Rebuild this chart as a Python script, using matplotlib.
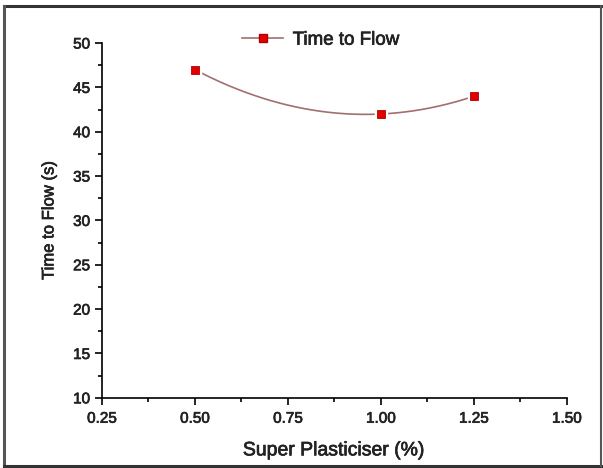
import numpy as np
import matplotlib
matplotlib.use('Agg')
import matplotlib.pyplot as plt
import matplotlib.patheffects as pe
from matplotlib.lines import Line2D

plasticiser = [0.50, 1.00, 1.25]
time_to_flow = [47, 42, 44]

plt.rcParams['font.family'] = ['Liberation Sans', 'DejaVu Sans']
heavy = [pe.withStroke(linewidth=0.5, foreground='#222222')]

fig = plt.figure(figsize=(6.03, 4.68), dpi=100)
ax = fig.add_axes([0.169, 0.150, 0.771, 0.758])

# smooth curve through the points (Origin style spline)
coef = np.polyfit(plasticiser, time_to_flow, 2)
xs = np.linspace(min(plasticiser), max(plasticiser), 200)
ax.plot(xs, np.polyval(coef, xs), color='#a07070', lw=1.2, zorder=2)
ax.plot(plasticiser, time_to_flow, 's', ms=9, color='white', zorder=3)
ax.plot(plasticiser, time_to_flow, 's', ms=6, color='#e00000', mec='#b00000', mew=0.6, zorder=4)

ax.set_xlim(0.25, 1.50)
ax.set_ylim(10, 50)
ax.set_xticks([0.25, 0.50, 0.75, 1.00, 1.25, 1.50])
ax.set_xticks(np.arange(0.375, 1.5, 0.25), minor=True)
ax.set_yticks(range(10, 51, 5))
ax.set_yticks(np.arange(12.5, 50, 5), minor=True)
ax.xaxis.set_major_formatter(plt.FormatStrFormatter('%.2f'))
ax.tick_params(which='major', direction='out', length=5, width=1.2, labelsize=11, labelcolor='#222222')
ax.tick_params(axis='x', which='major', pad=5)
ax.tick_params(which='minor', direction='out', length=3, width=1.2)
for s in ['top', 'right']:
    ax.spines[s].set_visible(False)
for s in ['left', 'bottom']:
    ax.spines[s].set_linewidth(1.2)
for lab in ax.get_xticklabels() + ax.get_yticklabels():
    lab.set_path_effects(heavy)

ax.set_xlabel('Super Plasticiser (%)', fontsize=14, labelpad=12, color='#222222', path_effects=heavy)
ax.set_ylabel('Time to Flow (s)', fontsize=12, labelpad=12, color='#222222', path_effects=heavy)

handle = Line2D([], [], color='#a07070', lw=1.2, marker='s', ms=6,
                mfc='#e00000', mec='#b00000')
leg = ax.legend([handle], ['Time to Flow'], loc='upper center', bbox_to_anchor=(0.47, 1.08),
                frameon=False, fontsize=13.5, handlelength=2.2, handletextpad=0.5)
for t in leg.get_texts():
    t.set_color('#222222')
    t.set_path_effects(heavy)

# outer picture frame
fig.add_artist(Line2D([0.006, 0.997], [0.988, 0.988], color='#333333', lw=2.2, transform=fig.transFigure))
fig.add_artist(Line2D([0.007, 0.007], [0.005, 0.988], color='#555555', lw=2.2, transform=fig.transFigure))
fig.add_artist(Line2D([0.006, 0.997], [0.005, 0.005], color='#333333', lw=2.2, transform=fig.transFigure))
fig.add_artist(Line2D([0.997, 0.997], [0.005, 0.988], color='#555555', lw=1.5, transform=fig.transFigure))

fig.savefig('out.png', dpi=100)
